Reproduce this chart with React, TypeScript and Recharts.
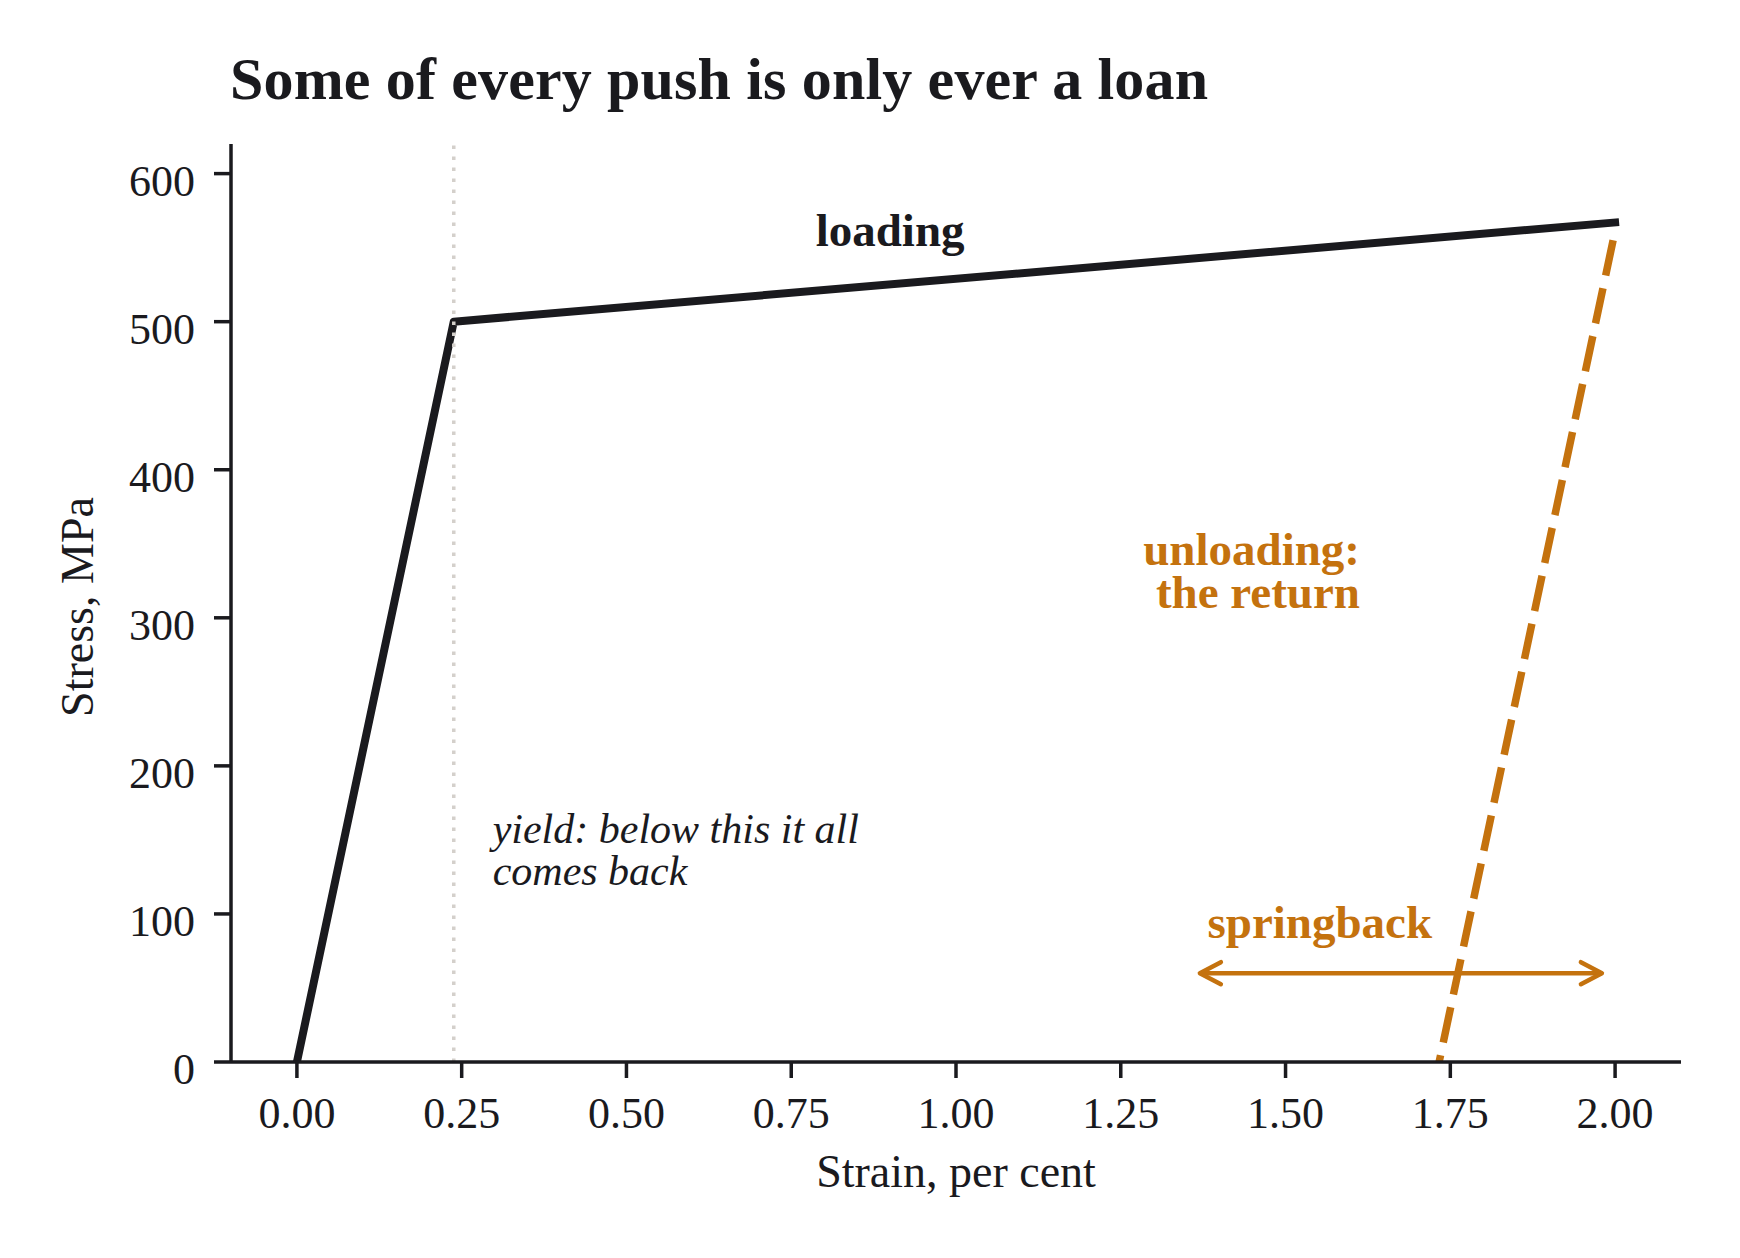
import React from 'react';
import { LineChart, Line, XAxis, YAxis, ReferenceLine, ReferenceDot } from 'recharts';

// ---- data ----
const loadStrain = [0, 0.238, 2.0];
const loadStress = [0, 500, 567];
const unloadStrain = [1.997, 1.733];
const unloadStress = [555, 0];
const arrowStrain = [1.37, 1.98];
const arrowStress = [60, 60];
const yieldStrain = 0.238;
const xTicks = [0, 0.25, 0.5, 0.75, 1.0, 1.25, 1.5, 1.75, 2.0];
const yTicks = [0, 100, 200, 300, 400, 500, 600];
const xDomain = [-0.1, 2.1];
const yDomain = [0, 620];

const loadData = loadStrain.map((x, i) => ({ x, y: loadStress[i] }));
const unloadData = unloadStrain.map((x, i) => ({ x, y: unloadStress[i] }));
const arrowData = arrowStrain.map((x, i) => ({ x, y: arrowStress[i] }));

const FONT = '"Liberation Serif", "Times New Roman", serif';
const INK = '#1a1a1e';
const ORANGE = '#c4720e';
const GRID = '#d4d0cb';

const W = 1724;
const H = 1242;

const XTick = (props: any) => {
  const { x, y, payload } = props;
  return (
    <text x={x} y={y} dy={50} textAnchor="middle" fontFamily={FONT} fontSize={44} fill={INK}>
      {Number(payload.value).toFixed(2)}
    </text>
  );
};

const YTick = (props: any) => {
  const { x, y, payload } = props;
  return (
    <text x={x} y={y} dy={22} textAnchor="end" fontFamily={FONT} fontSize={44} fill={INK}>
      {payload.value}
    </text>
  );
};

const textShape = (lines: string[], opts: { anchor: string; color: string; size: number; weight?: string; style?: string; lh: number }) =>
  (props: any) => {
    const { cx, cy } = props;
    return (
      <text
        x={cx}
        y={cy}
        textAnchor={opts.anchor as any}
        fontFamily={FONT}
        fontSize={opts.size}
        fontWeight={opts.weight || 'normal'}
        fontStyle={opts.style || 'normal'}
        fill={opts.color}
      >
        {lines.map((l, i) => (
          <tspan key={i} x={cx} dy={i === 0 ? 0 : opts.lh}>
            {l}
          </tspan>
        ))}
      </text>
    );
  };

const ArrowDot = (props: any) => {
  const { cx, cy, index } = props;
  if (cx == null || cy == null) return <g key={`a${index}`} />;
  const dir = index === 0 ? 1 : -1;
  return (
    <path
      key={`a${index}`}
      d={`M${cx + dir * 21},${cy - 11} L${cx},${cy} L${cx + dir * 21},${cy + 11}`}
      fill="none"
      stroke={ORANGE}
      strokeWidth={4.5}
      strokeLinecap="round"
      strokeLinejoin="round"
    />
  );
};

export default function App() {
  return (
    <div style={{ position: 'relative', width: W, height: H, background: '#fff' }}>
      <LineChart width={W} height={H} margin={{ top: 136, right: 51, bottom: 108, left: 0 }}>
        <XAxis
          type="number"
          dataKey="x"
          domain={xDomain}
          ticks={xTicks}
          allowDataOverflow
          height={80}
          tickSize={16}
          tickMargin={0}
          axisLine={{ stroke: INK, strokeWidth: 3.5 }}
          tickLine={{ stroke: INK, strokeWidth: 3.5 }}
          tick={<XTick />}
          label={{
            content: (p: any) => {
              const vb = p.viewBox || { x: 223, y: 1054, width: 1450 };
              return (
                <text x={vb.x + vb.width / 2} y={vb.y + 125} textAnchor="middle" fontFamily={FONT} fontSize={46} fill={INK}>
                  Strain, per cent
                </text>
              );
            },
          }}
        />
        <YAxis
          type="number"
          dataKey="y"
          domain={yDomain}
          ticks={yTicks}
          allowDataOverflow
          width={223}
          tickSize={17}
          tickMargin={19}
          axisLine={{ stroke: INK, strokeWidth: 3.5 }}
          tickLine={{ stroke: INK, strokeWidth: 3.5 }}
          tick={<YTick />}
          label={{
            content: (p: any) => {
              const vb = p.viewBox || { x: 0, y: 136, width: 223, height: 918 };
              const cy = vb.y + vb.height / 2 + 4;
              const lx = 85;
              return (
                <text x={lx} y={cy} textAnchor="middle" transform={`rotate(-90, ${lx}, ${cy})`} fontFamily={FONT} fontSize={46} fill={INK}>
                  Stress, MPa
                </text>
              );
            },
          }}
        />
        <Line
          data={loadData}
          dataKey="y"
          type="linear"
          stroke={INK}
          strokeWidth={8}
          strokeLinecap="square"
          strokeLinejoin="round"
          dot={false}
          activeDot={false}
          isAnimationActive={false}
        />
        <Line
          data={unloadData}
          dataKey="y"
          type="linear"
          stroke={ORANGE}
          strokeWidth={7.5}
          strokeDasharray="36 13"
          strokeLinecap="butt"
          dot={false}
          activeDot={false}
          isAnimationActive={false}
        />
        <Line
          data={arrowData}
          dataKey="y"
          type="linear"
          stroke={ORANGE}
          strokeWidth={4.5}
          dot={<ArrowDot />}
          activeDot={false}
          isAnimationActive={false}
        />
        <ReferenceLine x={yieldStrain} stroke={GRID} strokeWidth={3.5} strokeDasharray="3.5 7.5" />
        <ReferenceDot
          x={0.9}
          y={551}
          r={0}
          shape={textShape(['loading'], { anchor: 'middle', color: INK, size: 47, weight: 'bold', lh: 0 })}
        />
        <ReferenceDot
          x={1.613}
          y={336}
          r={0}
          shape={textShape(['unloading:', 'the return'], { anchor: 'end', color: ORANGE, size: 47, weight: 'bold', lh: 43 })}
        />
        <ReferenceDot
          x={1.552}
          y={84}
          r={0}
          shape={textShape(['springback'], { anchor: 'middle', color: ORANGE, size: 47, weight: 'bold', lh: 0 })}
        />
        <ReferenceDot
          x={0.297}
          y={148}
          r={0}
          shape={textShape(['yield: below this it all', 'comes back'], { anchor: 'start', color: INK, size: 42, style: 'italic', lh: 42 })}
        />
      </LineChart>
      <svg width={W} height={130} style={{ position: 'absolute', left: 0, top: 0, pointerEvents: 'none' }}>
        <text x={222} y={91} fontFamily={FONT} fontSize={60} fontWeight="bold" fill={INK} textLength={978} lengthAdjust="spacing">
          Some of every push is only ever a loan
        </text>
      </svg>
    </div>
  );
}
